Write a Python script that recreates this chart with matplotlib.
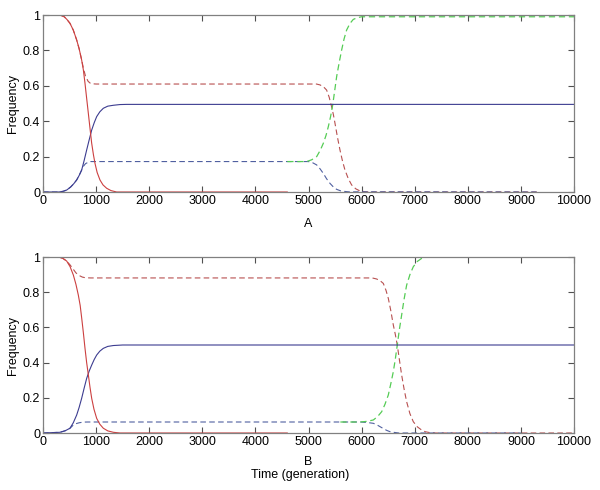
import matplotlib
matplotlib.use("Agg")
import matplotlib.pyplot as plt

plt.rcParams['font.family'] = ['Liberation Sans', 'DejaVu Sans']

# ---------------- Panel A data ----------------
a_red_x = [0, 320, 400, 450, 508, 570, 634, 680, 728, 760, 791, 820, 854, 885, 917, 950,
           979, 1020, 1073, 1130, 1199, 1280, 1387, 4600]
a_red_y = [1.0, 1.0, 0.99, 0.975, 0.953, 0.915, 0.859, 0.81, 0.746, 0.69, 0.614, 0.535,
           0.444, 0.36, 0.275, 0.21, 0.162, 0.11, 0.068, 0.04, 0.021, 0.008, 0.0, 0.0]

a_redd_x = [0, 320, 400, 450, 508, 570, 634, 680, 728, 760, 800, 850, 900, 1000,
            5150, 5217, 5280, 5341, 5390, 5435, 5470, 5499, 5545, 5593, 5640, 5687,
            5750, 5812, 5890, 5969, 6050, 6150, 9300]
a_redd_y = [1.0, 1.0, 0.99, 0.975, 0.953, 0.915, 0.859, 0.81, 0.746, 0.70, 0.655, 0.625,
            0.612, 0.61, 0.61, 0.605, 0.595, 0.576, 0.535, 0.482, 0.435, 0.388, 0.31,
            0.237, 0.175, 0.124, 0.075, 0.04, 0.018, 0.006, 0.002, 0.0, 0.0]

a_blue_x = [0, 300, 380, 446, 520, 580, 634, 680, 728, 775, 822, 870, 917, 965, 1011,
            1070, 1136, 1220, 1325, 1450, 1575, 10000]
a_blue_y = [0.0, 0.0, 0.004, 0.011, 0.028, 0.047, 0.068, 0.093, 0.124, 0.178, 0.237,
            0.295, 0.35, 0.392, 0.426, 0.453, 0.473, 0.485, 0.49, 0.494, 0.495, 0.495]

a_blued_x = [0, 300, 380, 446, 520, 580, 634, 680, 728, 760, 800, 850, 900, 4997, 5080,
             5154, 5220, 5279, 5340, 5404, 5470, 5530, 5600, 5655, 5750, 9300]
a_blued_y = [0.0, 0.0, 0.004, 0.011, 0.028, 0.047, 0.068, 0.093, 0.124, 0.145, 0.16,
             0.168, 0.172, 0.172, 0.165, 0.153, 0.13, 0.105, 0.075, 0.049, 0.028, 0.015,
             0.007, 0.004, 0.001, 0.0]

a_green_x = [4600, 4965, 5060, 5154, 5220, 5279, 5330, 5373, 5415, 5455, 5492, 5530,
             5577, 5624, 5670, 5718, 5780, 5843, 5920, 6000, 10000]
a_green_y = [0.172, 0.172, 0.182, 0.2, 0.235, 0.275, 0.32, 0.369, 0.425, 0.49, 0.57,
             0.652, 0.73, 0.802, 0.865, 0.915, 0.952, 0.975, 0.985, 0.99, 0.99]

# ---------------- Panel B data ----------------
b_red_x = [0, 289, 370, 446, 510, 571, 620, 665, 700, 728, 760, 791, 822, 854, 885, 917,
           960, 1011, 1070, 1136, 1220, 1325, 1450, 4600]
b_red_y = [1.0, 1.0, 0.993, 0.977, 0.945, 0.898, 0.845, 0.784, 0.725, 0.655, 0.57, 0.481,
           0.4, 0.33, 0.26, 0.197, 0.135, 0.083, 0.05, 0.027, 0.012, 0.004, 0.0, 0.0]

b_redd_x = [0, 289, 370, 446, 510, 571, 620, 680, 740, 800, 900, 6200, 6284, 6350, 6409,
            6460, 6503, 6550, 6597, 6635, 6672, 6710, 6754, 6800, 6848, 6910, 6974, 7050,
            7130, 7200, 7288, 7400, 10000]
b_redd_y = [1.0, 1.0, 0.993, 0.977, 0.955, 0.93, 0.91, 0.895, 0.886, 0.882, 0.881, 0.881,
            0.875, 0.865, 0.85, 0.81, 0.765, 0.695, 0.614, 0.56, 0.5, 0.42, 0.33, 0.25,
            0.178, 0.11, 0.064, 0.035, 0.017, 0.007, 0.002, 0.0, 0.0]

b_blue_x = [0, 320, 420, 508, 570, 634, 680, 728, 775, 822, 870, 917, 965, 1011, 1070,
            1136, 1220, 1325, 1500, 10000]
b_blue_y = [0.0, 0.004, 0.013, 0.027, 0.058, 0.102, 0.145, 0.197, 0.255, 0.31, 0.352,
            0.386, 0.418, 0.443, 0.465, 0.481, 0.492, 0.497, 0.5, 0.5]

b_blued_x = [0, 320, 420, 508, 571, 620, 680, 760, 850, 5970, 6100, 6221, 6290, 6347,
             6410, 6472, 6530, 6597, 6700, 9000]
b_blued_y = [0.0, 0.004, 0.013, 0.027, 0.045, 0.053, 0.058, 0.062, 0.0625, 0.0625, 0.06,
             0.055, 0.046, 0.036, 0.025, 0.015, 0.008, 0.004, 0.0, 0.0]

b_green_x = [5600, 5970, 6100, 6221, 6300, 6378, 6440, 6503, 6550, 6597, 6635, 6672, 6710,
             6754, 6800, 6848, 6910, 6974, 7050, 7130, 7224]
b_green_y = [0.0625, 0.0625, 0.066, 0.074, 0.093, 0.121, 0.163, 0.216, 0.28, 0.348, 0.42,
             0.5, 0.585, 0.67, 0.76, 0.84, 0.9, 0.945, 0.975, 0.992, 1.0]

xticks = [0, 1000, 2000, 3000, 4000, 5000, 6000, 7000, 8000, 9000, 10000]
yticks = [0, 0.2, 0.4, 0.6, 0.8, 1]
ytick_labels = ['0', '0.2', '0.4', '0.6', '0.8', '1']

C_RED = '#cc4040'
C_REDD = '#b85050'
C_BLUE = '#3c3c90'
C_BLUED = '#5060a0'
C_GREEN = '#55cc55'
DASH = (5, 3)

fig = plt.figure(figsize=(6.0, 4.9), dpi=100)
axA = fig.add_axes([43/600, 1 - 192/490, 531/600, 177/490])
axB = fig.add_axes([43/600, 1 - 433/490, 531/600, 176/490])

def draw(ax, red, redd, blue, blued, green):
    ax.plot(*redd, color=C_REDD, lw=0.8, dashes=DASH)
    ax.plot(*blued, color=C_BLUED, lw=0.8, dashes=DASH)
    ax.plot(*green, color=C_GREEN, lw=0.9, dashes=DASH)
    ax.plot(*blue, color=C_BLUE, lw=0.8)
    ax.plot(*red, color=C_RED, lw=0.8)
    ax.set_xlim(0, 10000)
    ax.set_ylim(0, 1)
    ax.set_xticks(xticks)
    ax.set_xticklabels([str(t) for t in xticks])
    ax.set_yticks(yticks)
    ax.set_yticklabels(ytick_labels)
    ax.tick_params(direction='in', top=True, right=True, length=4, width=0.8,
                   color='#505050', labelsize=9, pad=2)
    for s in ax.spines.values():
        s.set_color('#808080')
        s.set_linewidth(0.9)
        s.set_zorder(5)
    ax.set_ylabel('Frequency', fontsize=9, labelpad=3)

draw(axA, (a_red_x, a_red_y), (a_redd_x, a_redd_y), (a_blue_x, a_blue_y),
     (a_blued_x, a_blued_y), (a_green_x, a_green_y))
draw(axB, (b_red_x, b_red_y), (b_redd_x, b_redd_y), (b_blue_x, b_blue_y),
     (b_blued_x, b_blued_y), (b_green_x, b_green_y))

axA.set_xlabel('A', fontsize=9, labelpad=8)
axB.set_xlabel('B', fontsize=9, labelpad=6)
fig.text(0.5, 1 - 475/490, 'Time (generation)', ha='center', va='center', fontsize=9)

fig.savefig('out.png', dpi=100)
